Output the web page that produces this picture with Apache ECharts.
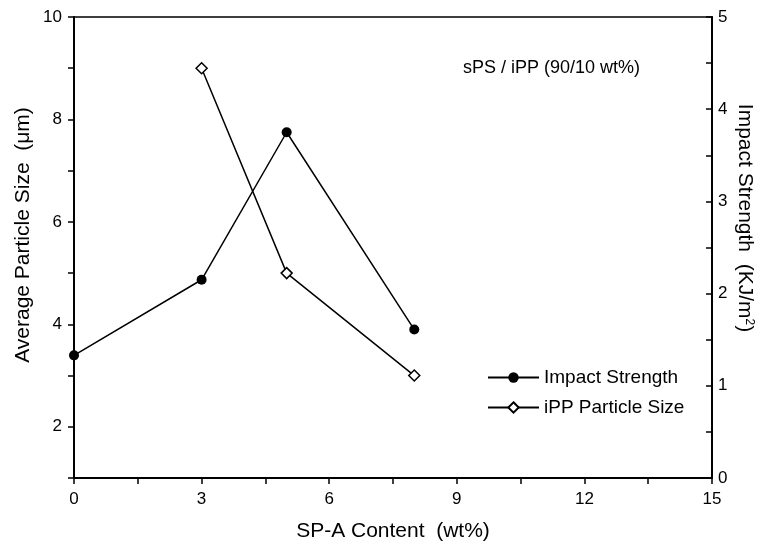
<!DOCTYPE html>
<html>
<head>
<meta charset="utf-8">
<script src="https://cdn.jsdelivr.net/npm/echarts@6/dist/echarts.min.js"></script>
<style>
html,body{margin:0;padding:0;background:#fff;}
#chart{width:766px;height:541px;}
</style>
</head>
<body>
<div id="chart"></div>
<script>
// Data
var impactX = [0, 3, 5, 8];
var impactStrength = [1.33, 2.15, 3.75, 1.61];       // KJ/m2 (right axis)
var particleX = [3, 5, 8];
var particleSize = [9.0, 5.0, 3.0];                  // µm (left axis)
var xTickStep = 1.5, xLabelStep = 3;
var leftTicks = [2, 4, 6, 8, 10];
var rightTicks = [0, 1, 2, 3, 4, 5];

var FONT = 'Liberation Sans, Arial, sans-serif';
var chart = echarts.init(document.getElementById('chart'));

function pairs(xs, ys){ return xs.map(function(x,i){ return [x, ys[i]]; }); }

chart.setOption({
  animation: false,
  backgroundColor: '#fff',
  grid: { left: 74, right: 54, top: 17, bottom: 63, show: true, borderColor: '#000', borderWidth: 1.5, backgroundColor: 'transparent' },
  legend: {
    orient: 'vertical', left: 482, top: 362, itemWidth: 51, itemHeight: 13, itemGap: 9,
    textStyle: { fontFamily: FONT, fontSize: 19, color: '#000', lineHeight: 21 },
    data: ['Impact Strength', 'iPP Particle Size']
  },
  xAxis: {
    type: 'value', min: 0, max: 15, interval: xTickStep,
    axisLine: { lineStyle: { color: '#000', width: 2 } },
    axisTick: { inside: false, length: 6, lineStyle: { color: '#000', width: 1.5 } },
    axisLabel: { margin: 13, fontFamily: FONT, fontSize: 17, color: '#000',
      formatter: function(v){ return (Math.abs(v % xLabelStep) < 1e-9) ? String(v) : ''; } },
    splitLine: { show: false }
  },
  yAxis: [
    {
      type: 'value', min: 1, max: 10, interval: 1, position: 'left',
      axisLine: { show: true, lineStyle: { color: '#000', width: 2 } },
      axisTick: { show: true, inside: false, length: 6, lineStyle: { color: '#000', width: 1.5 } },
      axisLabel: { margin: 12, fontFamily: FONT, fontSize: 17, color: '#000',
        formatter: function(v){ return leftTicks.indexOf(v) >= 0 ? String(v) : ''; } },
      splitLine: { show: false }
    },
    {
      type: 'value', min: 0, max: 5, interval: 0.5, position: 'right',
      axisLine: { show: true, lineStyle: { color: '#000', width: 2 } },
      axisTick: { show: true, inside: true, length: 6, lineStyle: { color: '#000', width: 1.5 } },
      axisLabel: { margin: 6, fontFamily: FONT, fontSize: 17, color: '#000',
        formatter: function(v){ return rightTicks.indexOf(v) >= 0 ? String(v) : ''; } },
      splitLine: { show: false }
    }
  ],
  graphic: [
    { type: 'text', left: 463, top: 59, style: { text: 'sPS / iPP (90/10 wt%)', fontFamily: FONT, fontSize: 18, fill: '#000' } },
    { type: 'text', x: 393, y: 531, style: { text: 'SP-A Content  (wt%)', fontFamily: FONT, fontSize: 21, fill: '#000', textAlign: 'center', textVerticalAlign: 'middle' } },
    { type: 'text', x: 23, y: 235, rotation: Math.PI/2, style: { text: 'Average Particle Size  (\u03bcm)', fontFamily: FONT, fontSize: 21, fill: '#000', textAlign: 'center', textVerticalAlign: 'middle' } },
    { type: 'text', x: 745, y: 218, rotation: -Math.PI/2, style: {
        text: '{n|Impact Strength  (KJ/m}{s|2}{n|)}', fontFamily: FONT, fill: '#000', textAlign: 'center', textVerticalAlign: 'middle',
        rich: { n: { fontFamily: FONT, fontSize: 21, fill: '#000', verticalAlign: 'bottom' }, s: { fontFamily: FONT, fontSize: 12, fill: '#000', verticalAlign: 'top', padding: [0,0,8,0] } } } }
  ],
  series: [
    {
      name: 'Impact Strength', type: 'line', yAxisIndex: 1, data: pairs(impactX, impactStrength),
      symbol: 'circle', symbolSize: 10,
      lineStyle: { color: '#000', width: 1.5 },
      itemStyle: { color: '#000', borderColor: '#000', borderWidth: 0 }
    },
    {
      name: 'iPP Particle Size', type: 'line', yAxisIndex: 0, data: pairs(particleX, particleSize),
      symbol: 'diamond', symbolSize: 11,
      lineStyle: { color: '#000', width: 1.5 },
      itemStyle: { color: '#fff', borderColor: '#000', borderWidth: 1.5 }
    }
  ]
});
</script>
</body>
</html>
